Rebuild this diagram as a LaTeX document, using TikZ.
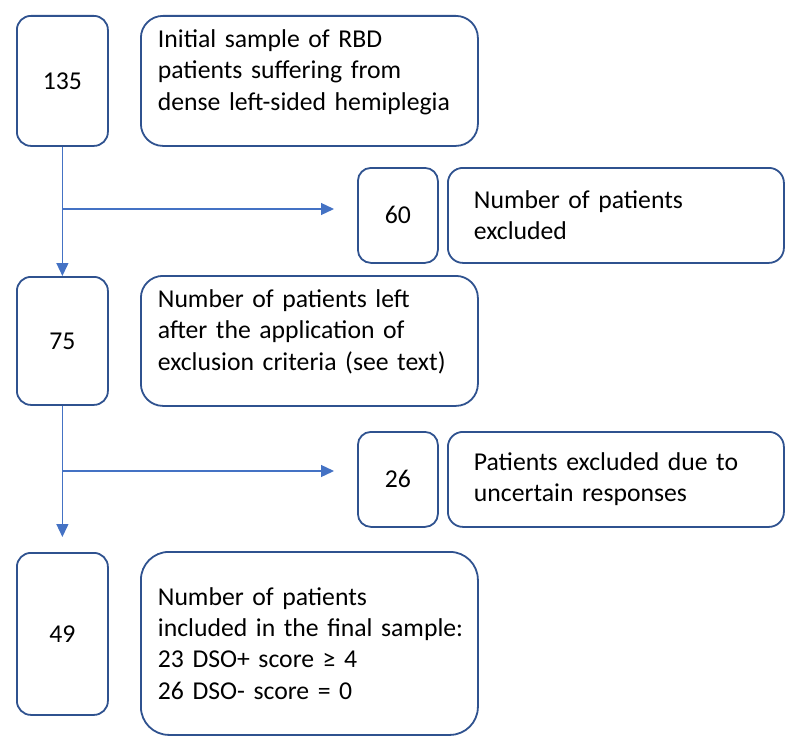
\documentclass[tikz,border=0pt]{standalone}
\usepackage{fontspec}
\setmainfont{Carlito}
\usetikzlibrary{arrows.meta}
\definecolor{boxblue}{HTML}{2F528F}
\definecolor{flowblue}{HTML}{4472C4}
\tikzset{
  numbox/.style={draw=boxblue, line width=1.8pt, rounded corners=#1, anchor=north west, align=center, inner sep=0pt},
  infobox/.style={draw=boxblue, line width=1.8pt, rounded corners=#1, anchor=north west, align=left, inner ysep=0pt},
  flow/.style={draw=flowblue, line width=1.3pt, -{Triangle[length=13pt,width=12pt]}},
}

\begin{document}
\begin{tikzpicture}[x=1pt, y=-1pt, font=\fontsize{25.7}{31.4}\selectfont]
  \useasboundingbox (0,0) rectangle (800,749);
  % left column: counts
  \node[numbox=14pt, minimum width=91pt, minimum height=130pt] (n135) at (16,15) {135};
  \node[numbox=14pt, minimum width=91pt, minimum height=128pt] (n75) at (16,276) {75};
  \node[numbox=14pt, minimum width=91pt, minimum height=162pt] (n49) at (16,552) {49};
  % descriptions
  \node[infobox=22pt, minimum width=337pt, minimum height=130pt, text width=303pt, inner xsep=17pt, text depth=85pt] (t135) at (140,15)
    {Initial sample of RBD\\ patients suffering from\\ dense left-sided hemiplegia};
  \node[infobox=22pt, minimum width=337pt, minimum height=130pt, text width=303pt, inner xsep=17pt, text depth=85pt] (t75) at (140,275)
    {Number of patients left\\ after the application of\\ exclusion criteria (see text)};
  \node[infobox=28pt, minimum width=337pt, minimum height=183pt, text width=303pt, inner xsep=17pt] (t49) at (140,551)
    {Number of patients\\ \mbox{included in the final sample:}\\ 23 DSO+ score ≥ 4\\ 26 DSO- score = 0};
  % exclusions
  \node[numbox=13pt, minimum width=80pt, minimum height=95pt] (n60) at (357,167) {60};
  \node[infobox=15pt, minimum width=336pt, minimum height=95pt, text width=284pt, inner xsep=26pt] (t60) at (447,167)
    {Number of patients\\ excluded};
  \node[numbox=13pt, minimum width=80pt, minimum height=95pt] (n26) at (357,431) {26};
  \node[infobox=15pt, minimum width=336pt, minimum height=95pt, text width=284pt, inner xsep=26pt] (t26) at (447,431)
    {Patients excluded due to\\ uncertain responses};
  % connectors
  \coordinate (split1) at (n135.south |- 0,209);
  \coordinate (tip1) at (334,209);
  \coordinate (split2) at (n75.south |- 0,471);
  \coordinate (tip2) at (334,471);
  \coordinate (tip3) at (n75.south |- 0,537);
  \draw[flow] (n135.south) -- (n75.north);
  \draw[flow] (split1) -- (tip1);
  \draw[flow] (n75.south) -- (tip3);
  \draw[flow] (split2) -- (tip2);
\end{tikzpicture}
\end{document}
